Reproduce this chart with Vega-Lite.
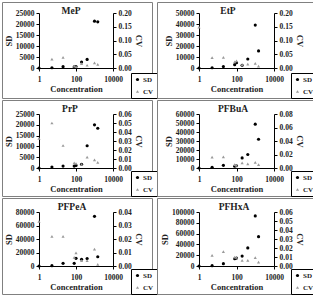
{
  "$schema": "https://vega.github.io/schema/vega-lite/v6.json",
  "padding": {"left": 1, "top": 1, "right": 0, "bottom": 0},
  "background": "#ffffff",
  "data": {
    "values": [
      {"panel": "MeP", "conc": 1, "series": "SD", "value": 0},
      {"panel": "MeP", "conc": 5, "series": "SD", "value": 100},
      {"panel": "MeP", "conc": 20, "series": "SD", "value": 600},
      {"panel": "MeP", "conc": 80, "series": "SD", "value": 500},
      {"panel": "MeP", "conc": 100, "series": "SD", "value": 700},
      {"panel": "MeP", "conc": 200, "series": "SD", "value": 2700},
      {"panel": "MeP", "conc": 400, "series": "SD", "value": 3900},
      {"panel": "MeP", "conc": 1000, "series": "SD", "value": 21300},
      {"panel": "MeP", "conc": 1500, "series": "SD", "value": 21000},
      {"panel": "MeP", "conc": 5, "series": "CV", "value": 0.032},
      {"panel": "MeP", "conc": 20, "series": "CV", "value": 0.039},
      {"panel": "MeP", "conc": 80, "series": "CV", "value": 0.007},
      {"panel": "MeP", "conc": 100, "series": "CV", "value": 0.005},
      {"panel": "MeP", "conc": 200, "series": "CV", "value": 0.016},
      {"panel": "MeP", "conc": 400, "series": "CV", "value": 0.010},
      {"panel": "MeP", "conc": 1000, "series": "CV", "value": 0.019},
      {"panel": "MeP", "conc": 1500, "series": "CV", "value": 0.013},

      {"panel": "EtP", "conc": 1, "series": "SD", "value": 0},
      {"panel": "EtP", "conc": 5, "series": "SD", "value": 200},
      {"panel": "EtP", "conc": 20, "series": "SD", "value": 1300},
      {"panel": "EtP", "conc": 80, "series": "SD", "value": 3000},
      {"panel": "EtP", "conc": 100, "series": "SD", "value": 4800},
      {"panel": "EtP", "conc": 200, "series": "SD", "value": 2500},
      {"panel": "EtP", "conc": 400, "series": "SD", "value": 8200},
      {"panel": "EtP", "conc": 1000, "series": "SD", "value": 39000},
      {"panel": "EtP", "conc": 1500, "series": "SD", "value": 15500},
      {"panel": "EtP", "conc": 1, "series": "CV", "value": 0.149},
      {"panel": "EtP", "conc": 5, "series": "CV", "value": 0.038},
      {"panel": "EtP", "conc": 20, "series": "CV", "value": 0.039},
      {"panel": "EtP", "conc": 80, "series": "CV", "value": 0.022},
      {"panel": "EtP", "conc": 100, "series": "CV", "value": 0.026},
      {"panel": "EtP", "conc": 200, "series": "CV", "value": 0.012},
      {"panel": "EtP", "conc": 400, "series": "CV", "value": 0.014},
      {"panel": "EtP", "conc": 1000, "series": "CV", "value": 0.017},
      {"panel": "EtP", "conc": 1500, "series": "CV", "value": 0.007},

      {"panel": "PrP", "conc": 1, "series": "SD", "value": 0},
      {"panel": "PrP", "conc": 5, "series": "SD", "value": 460},
      {"panel": "PrP", "conc": 20, "series": "SD", "value": 900},
      {"panel": "PrP", "conc": 80, "series": "SD", "value": 900},
      {"panel": "PrP", "conc": 100, "series": "SD", "value": 1200},
      {"panel": "PrP", "conc": 200, "series": "SD", "value": 1700},
      {"panel": "PrP", "conc": 400, "series": "SD", "value": 10300},
      {"panel": "PrP", "conc": 1000, "series": "SD", "value": 20000},
      {"panel": "PrP", "conc": 1500, "series": "SD", "value": 18400},
      {"panel": "PrP", "conc": 1, "series": "CV", "value": 0.033},
      {"panel": "PrP", "conc": 5, "series": "CV", "value": 0.050},
      {"panel": "PrP", "conc": 20, "series": "CV", "value": 0.025},
      {"panel": "PrP", "conc": 80, "series": "CV", "value": 0.0056},
      {"panel": "PrP", "conc": 100, "series": "CV", "value": 0.005},
      {"panel": "PrP", "conc": 200, "series": "CV", "value": 0.004},
      {"panel": "PrP", "conc": 400, "series": "CV", "value": 0.012},
      {"panel": "PrP", "conc": 1000, "series": "CV", "value": 0.009},
      {"panel": "PrP", "conc": 1500, "series": "CV", "value": 0.0063},

      {"panel": "PFBuA", "conc": 1, "series": "SD", "value": 0},
      {"panel": "PFBuA", "conc": 5, "series": "SD", "value": 750},
      {"panel": "PFBuA", "conc": 20, "series": "SD", "value": 3000},
      {"panel": "PFBuA", "conc": 80, "series": "SD", "value": 2000},
      {"panel": "PFBuA", "conc": 100, "series": "SD", "value": 2500},
      {"panel": "PFBuA", "conc": 200, "series": "SD", "value": 11250},
      {"panel": "PFBuA", "conc": 400, "series": "SD", "value": 15000},
      {"panel": "PFBuA", "conc": 1000, "series": "SD", "value": 48750},
      {"panel": "PFBuA", "conc": 1500, "series": "SD", "value": 31900},
      {"panel": "PFBuA", "conc": 5, "series": "CV", "value": 0.016},
      {"panel": "PFBuA", "conc": 20, "series": "CV", "value": 0.0165},
      {"panel": "PFBuA", "conc": 80, "series": "CV", "value": 0.005},
      {"panel": "PFBuA", "conc": 100, "series": "CV", "value": 0.004},
      {"panel": "PFBuA", "conc": 200, "series": "CV", "value": 0.0075},
      {"panel": "PFBuA", "conc": 400, "series": "CV", "value": 0.006},
      {"panel": "PFBuA", "conc": 1000, "series": "CV", "value": 0.0085},
      {"panel": "PFBuA", "conc": 1500, "series": "CV", "value": 0.005},

      {"panel": "PFPeA", "conc": 1, "series": "SD", "value": 0},
      {"panel": "PFPeA", "conc": 5, "series": "SD", "value": 500},
      {"panel": "PFPeA", "conc": 20, "series": "SD", "value": 3900},
      {"panel": "PFPeA", "conc": 80, "series": "SD", "value": 4000},
      {"panel": "PFPeA", "conc": 100, "series": "SD", "value": 11300},
      {"panel": "PFPeA", "conc": 200, "series": "SD", "value": 10000},
      {"panel": "PFPeA", "conc": 400, "series": "SD", "value": 11000},
      {"panel": "PFPeA", "conc": 1000, "series": "SD", "value": 73600},
      {"panel": "PFPeA", "conc": 1500, "series": "SD", "value": 13700},
      {"panel": "PFPeA", "conc": 1, "series": "CV", "value": 0.033},
      {"panel": "PFPeA", "conc": 5, "series": "CV", "value": 0.022},
      {"panel": "PFPeA", "conc": 20, "series": "CV", "value": 0.022},
      {"panel": "PFPeA", "conc": 80, "series": "CV", "value": 0.0064},
      {"panel": "PFPeA", "conc": 100, "series": "CV", "value": 0.0098},
      {"panel": "PFPeA", "conc": 200, "series": "CV", "value": 0.004},
      {"panel": "PFPeA", "conc": 400, "series": "CV", "value": 0.004},
      {"panel": "PFPeA", "conc": 1000, "series": "CV", "value": 0.0125},
      {"panel": "PFPeA", "conc": 1500, "series": "CV", "value": 0.0012},

      {"panel": "PFHxA", "conc": 1, "series": "SD", "value": 0},
      {"panel": "PFHxA", "conc": 5, "series": "SD", "value": 600},
      {"panel": "PFHxA", "conc": 20, "series": "SD", "value": 4300},
      {"panel": "PFHxA", "conc": 80, "series": "SD", "value": 13400},
      {"panel": "PFHxA", "conc": 100, "series": "SD", "value": 14600},
      {"panel": "PFHxA", "conc": 200, "series": "SD", "value": 18300},
      {"panel": "PFHxA", "conc": 400, "series": "SD", "value": 33500},
      {"panel": "PFHxA", "conc": 1000, "series": "SD", "value": 92700},
      {"panel": "PFHxA", "conc": 1500, "series": "SD", "value": 54300},
      {"panel": "PFHxA", "conc": 5, "series": "CV", "value": 0.0117},
      {"panel": "PFHxA", "conc": 20, "series": "CV", "value": 0.016},
      {"panel": "PFHxA", "conc": 80, "series": "CV", "value": 0.0099},
      {"panel": "PFHxA", "conc": 100, "series": "CV", "value": 0.0095},
      {"panel": "PFHxA", "conc": 200, "series": "CV", "value": 0.0062},
      {"panel": "PFHxA", "conc": 400, "series": "CV", "value": 0.0062},
      {"panel": "PFHxA", "conc": 1000, "series": "CV", "value": 0.0092},
      {"panel": "PFHxA", "conc": 1500, "series": "CV", "value": 0.0044}
    ]
  },
  "columns": 2,
  "bounds": "flush",
  "align": "each",
  "spacing": {"row": 2, "column": 5},
  "concat": [
    {
      "width": 150, "height": 96,
      "title": {"text": "MeP", "dx": -6},
      "transform": [{"filter": "datum.panel === 'MeP'"}],
      "encoding": {
        "x": {"field": "conc", "type": "quantitative", "title": "Concentration",
          "scale": {"type": "log", "domain": [1, 10000], "range": [37, 111]},
          "axis": {"offset": -30, "values": [1, 100, 10000], "format": "d"}}
      },
      "layer": [
        {
          "transform": [{"filter": "datum.series === 'SD'"}],
          "mark": {"type": "point", "filled": true, "opacity": 1},
          "encoding": {
            "y": {"field": "value", "type": "quantitative", "title": "SD",
              "scale": {"domain": [0, 25000], "range": [66, 11], "nice": false},
              "axis": {"orient": "left", "offset": -37, "values": [0, 5000, 10000, 15000, 20000, 25000], "format": "d"}},
            "color": {"field": "series", "type": "nominal", "title": null, "scale": {"domain": ["SD", "CV"], "range": ["#000000", "#9a9a9a"]}, "legend": {"legendX": 129}},
            "shape": {"field": "series", "type": "nominal", "title": null, "scale": {"domain": ["SD", "CV"], "range": ["circle", "triangle-up"]}, "legend": {"legendX": 129}}
          }
        },
        {
          "transform": [{"filter": "datum.series === 'CV'"}],
          "mark": {"type": "point", "filled": true, "opacity": 1},
          "encoding": {
            "y": {"field": "value", "type": "quantitative", "title": "CV",
              "scale": {"domain": [0, 0.2], "range": [66, 11], "nice": false},
              "axis": {"orient": "right", "offset": -39, "values": [0, 0.05, 0.1, 0.15, 0.2], "format": ".2f"}},
            "color": {"field": "series", "type": "nominal", "title": null},
            "shape": {"field": "series", "type": "nominal", "title": null}
          }
        }
      ],
      "resolve": {"scale": {"y": "independent"}}
    },
    {
      "width": 156, "height": 96,
      "title": {"text": "EtP", "dx": -7},
      "transform": [{"filter": "datum.panel === 'EtP'"}],
      "encoding": {
        "x": {"field": "conc", "type": "quantitative", "title": "Concentration",
          "scale": {"type": "log", "domain": [1, 10000], "range": [42, 117]},
          "axis": {"offset": -30, "values": [1, 100, 10000], "format": "d"}}
      },
      "layer": [
        {
          "transform": [{"filter": "datum.series === 'SD'"}],
          "mark": {"type": "point", "filled": true, "opacity": 1},
          "encoding": {
            "y": {"field": "value", "type": "quantitative", "title": "SD",
              "scale": {"domain": [0, 50000], "range": [66, 11], "nice": false},
              "axis": {"orient": "left", "offset": -42, "values": [0, 10000, 20000, 30000, 40000, 50000], "format": "d"}},
            "color": {"field": "series", "type": "nominal", "title": null, "scale": {"domain": ["SD", "CV"], "range": ["#000000", "#9a9a9a"]}, "legend": {"legendX": 134}},
            "shape": {"field": "series", "type": "nominal", "title": null, "scale": {"domain": ["SD", "CV"], "range": ["circle", "triangle-up"]}, "legend": {"legendX": 134}}
          }
        },
        {
          "transform": [{"filter": "datum.series === 'CV'"}],
          "mark": {"type": "point", "filled": true, "opacity": 1},
          "encoding": {
            "y": {"field": "value", "type": "quantitative", "title": "CV",
              "scale": {"domain": [0, 0.2], "range": [66, 11], "nice": false},
              "axis": {"orient": "right", "offset": -39, "values": [0, 0.05, 0.1, 0.15, 0.2], "format": ".2f"}},
            "color": {"field": "series", "type": "nominal", "title": null},
            "shape": {"field": "series", "type": "nominal", "title": null}
          }
        }
      ],
      "resolve": {"scale": {"y": "independent"}}
    },
    {
      "width": 150, "height": 96,
      "title": {"text": "PrP", "dx": -7},
      "transform": [{"filter": "datum.panel === 'PrP'"}],
      "encoding": {
        "x": {"field": "conc", "type": "quantitative", "title": "Concentration",
          "scale": {"type": "log", "domain": [1, 10000], "range": [37, 111]},
          "axis": {"offset": -28, "values": [1, 100, 10000], "format": "d"}}
      },
      "layer": [
        {
          "transform": [{"filter": "datum.series === 'SD'"}],
          "mark": {"type": "point", "filled": true, "opacity": 1},
          "encoding": {
            "y": {"field": "value", "type": "quantitative", "title": "SD",
              "scale": {"domain": [0, 25000], "range": [68, 14], "nice": false},
              "axis": {"orient": "left", "offset": -37, "values": [0, 5000, 10000, 15000, 20000, 25000], "format": "d"}},
            "color": {"field": "series", "type": "nominal", "title": null, "scale": {"domain": ["SD", "CV"], "range": ["#000000", "#9a9a9a"]}, "legend": {"legendX": 129}},
            "shape": {"field": "series", "type": "nominal", "title": null, "scale": {"domain": ["SD", "CV"], "range": ["circle", "triangle-up"]}, "legend": {"legendX": 129}}
          }
        },
        {
          "transform": [{"filter": "datum.series === 'CV'"}],
          "mark": {"type": "point", "filled": true, "opacity": 1},
          "encoding": {
            "y": {"field": "value", "type": "quantitative", "title": "CV",
              "scale": {"domain": [0, 0.06], "range": [68, 14], "nice": false},
              "axis": {"orient": "right", "offset": -39, "values": [0, 0.01, 0.02, 0.03, 0.04, 0.05, 0.06], "format": ".2f"}},
            "color": {"field": "series", "type": "nominal", "title": null},
            "shape": {"field": "series", "type": "nominal", "title": null}
          }
        }
      ],
      "resolve": {"scale": {"y": "independent"}}
    },
    {
      "width": 156, "height": 96,
      "title": {"text": "PFBuA", "dx": -2},
      "transform": [{"filter": "datum.panel === 'PFBuA'"}],
      "encoding": {
        "x": {"field": "conc", "type": "quantitative", "title": "Concentration",
          "scale": {"type": "log", "domain": [1, 10000], "range": [42, 117]},
          "axis": {"offset": -28, "values": [1, 100, 10000], "format": "d"}}
      },
      "layer": [
        {
          "transform": [{"filter": "datum.series === 'SD'"}],
          "mark": {"type": "point", "filled": true, "opacity": 1},
          "encoding": {
            "y": {"field": "value", "type": "quantitative", "title": "SD",
              "scale": {"domain": [0, 60000], "range": [68, 14], "nice": false},
              "axis": {"orient": "left", "offset": -42, "values": [0, 10000, 20000, 30000, 40000, 50000, 60000], "format": "d"}},
            "color": {"field": "series", "type": "nominal", "title": null, "scale": {"domain": ["SD", "CV"], "range": ["#000000", "#9a9a9a"]}, "legend": {"legendX": 134}},
            "shape": {"field": "series", "type": "nominal", "title": null, "scale": {"domain": ["SD", "CV"], "range": ["circle", "triangle-up"]}, "legend": {"legendX": 134}}
          }
        },
        {
          "transform": [{"filter": "datum.series === 'CV'"}],
          "mark": {"type": "point", "filled": true, "opacity": 1},
          "encoding": {
            "y": {"field": "value", "type": "quantitative", "title": "CV",
              "scale": {"domain": [0, 0.08], "range": [68, 14], "nice": false},
              "axis": {"orient": "right", "offset": -39, "values": [0, 0.02, 0.04, 0.06, 0.08], "format": ".2f"}},
            "color": {"field": "series", "type": "nominal", "title": null},
            "shape": {"field": "series", "type": "nominal", "title": null}
          }
        }
      ],
      "resolve": {"scale": {"y": "independent"}}
    },
    {
      "width": 150, "height": 96,
      "title": {"text": "PFPeA", "dx": -5},
      "transform": [{"filter": "datum.panel === 'PFPeA'"}],
      "encoding": {
        "x": {"field": "conc", "type": "quantitative", "title": "Concentration",
          "scale": {"type": "log", "domain": [1, 10000], "range": [37, 111]},
          "axis": {"offset": -28, "values": [1, 100, 10000], "format": "d"}}
      },
      "layer": [
        {
          "transform": [{"filter": "datum.series === 'SD'"}],
          "mark": {"type": "point", "filled": true, "opacity": 1},
          "encoding": {
            "y": {"field": "value", "type": "quantitative", "title": "SD",
              "scale": {"domain": [0, 80000], "range": [68, 14], "nice": false},
              "axis": {"orient": "left", "offset": -37, "values": [0, 20000, 40000, 60000, 80000], "format": "d"}},
            "color": {"field": "series", "type": "nominal", "title": null, "scale": {"domain": ["SD", "CV"], "range": ["#000000", "#9a9a9a"]}, "legend": {"legendX": 129}},
            "shape": {"field": "series", "type": "nominal", "title": null, "scale": {"domain": ["SD", "CV"], "range": ["circle", "triangle-up"]}, "legend": {"legendX": 129}}
          }
        },
        {
          "transform": [{"filter": "datum.series === 'CV'"}],
          "mark": {"type": "point", "filled": true, "opacity": 1},
          "encoding": {
            "y": {"field": "value", "type": "quantitative", "title": "CV",
              "scale": {"domain": [0, 0.04], "range": [68, 14], "nice": false},
              "axis": {"orient": "right", "offset": -39, "values": [0, 0.01, 0.02, 0.03, 0.04], "format": ".2f"}},
            "color": {"field": "series", "type": "nominal", "title": null},
            "shape": {"field": "series", "type": "nominal", "title": null}
          }
        }
      ],
      "resolve": {"scale": {"y": "independent"}}
    },
    {
      "width": 156, "height": 96,
      "title": {"text": "PFHxA", "dx": -1},
      "transform": [{"filter": "datum.panel === 'PFHxA'"}],
      "encoding": {
        "x": {"field": "conc", "type": "quantitative", "title": "Concentration",
          "scale": {"type": "log", "domain": [1, 10000], "range": [42, 117]},
          "axis": {"offset": -28, "values": [1, 100, 10000], "format": "d"}}
      },
      "layer": [
        {
          "transform": [{"filter": "datum.series === 'SD'"}],
          "mark": {"type": "point", "filled": true, "opacity": 1},
          "encoding": {
            "y": {"field": "value", "type": "quantitative", "title": "SD",
              "scale": {"domain": [0, 100000], "range": [68, 14], "nice": false},
              "axis": {"orient": "left", "offset": -42, "values": [0, 20000, 40000, 60000, 80000, 100000], "format": "d"}},
            "color": {"field": "series", "type": "nominal", "title": null, "scale": {"domain": ["SD", "CV"], "range": ["#000000", "#9a9a9a"]}, "legend": {"legendX": 134}},
            "shape": {"field": "series", "type": "nominal", "title": null, "scale": {"domain": ["SD", "CV"], "range": ["circle", "triangle-up"]}, "legend": {"legendX": 134}}
          }
        },
        {
          "transform": [{"filter": "datum.series === 'CV'"}],
          "mark": {"type": "point", "filled": true, "opacity": 1},
          "encoding": {
            "y": {"field": "value", "type": "quantitative", "title": "CV",
              "scale": {"domain": [0, 0.06], "range": [68, 14], "nice": false},
              "axis": {"orient": "right", "offset": -39, "values": [0, 0.01, 0.02, 0.03, 0.04, 0.05, 0.06], "format": ".2f"}},
            "color": {"field": "series", "type": "nominal", "title": null},
            "shape": {"field": "series", "type": "nominal", "title": null}
          }
        }
      ],
      "resolve": {"scale": {"y": "independent"}}
    }
  ],
  "resolve": {"scale": {"color": "independent", "shape": "independent"}, "legend": {"color": "independent", "shape": "independent"}},
  "config": {
    "view": {"stroke": "#808080", "strokeWidth": 1},
    "font": "Liberation Serif",
    "point": {"size": 10},
    "axis": {
      "grid": false,
      "labelFont": "Liberation Serif", "labelFontWeight": "bold", "labelFontSize": 7.5, "labelColor": "#222222",
      "titleFont": "Liberation Serif", "titleFontWeight": "bold", "titleFontSize": 8.5, "titleColor": "#222222",
      "domainColor": "#000000", "tickColor": "#000000", "tickSize": 3, "labelPadding": 2, "titlePadding": 2
    },
    "axisX": {"labelPadding": 4, "labelFlush": false},
    "title": {"font": "Liberation Serif", "fontSize": 9.5, "fontWeight": "bold", "color": "#222222", "offset": -13, "anchor": "middle", "frame": "group"},
    "legend": {
      "orient": "none", "legendY": 71,
      "strokeColor": "#000000", "fillColor": "#ffffff", "padding": 3,
      "labelFont": "Liberation Serif", "labelFontWeight": "bold", "labelFontSize": 7, "labelColor": "#222222",
      "symbolSize": 10, "rowPadding": 4, "labelOffset": 2, "symbolStrokeWidth": 0
    }
  }
}
